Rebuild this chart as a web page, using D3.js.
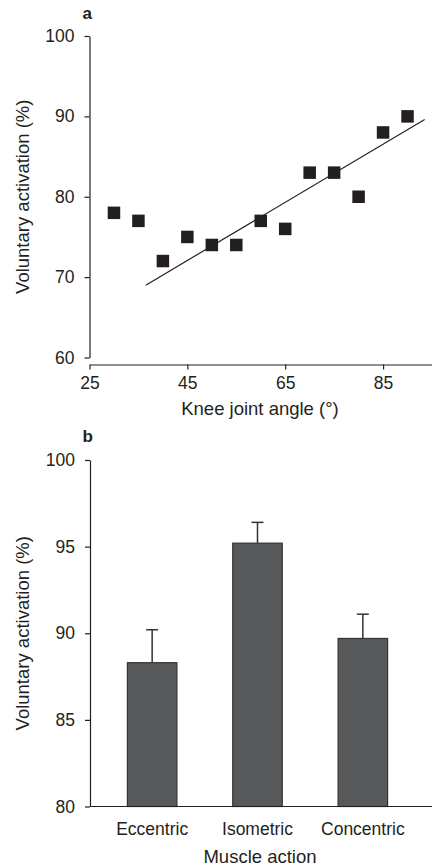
<!DOCTYPE html>
<html>
<head>
<meta charset="utf-8">
<script src="https://cdn.jsdelivr.net/npm/d3@7"></script>
<style>
    body { margin: 0; background: #ffffff; }
    svg { display: block; font-family: "Liberation Sans", Arial, sans-serif; }
    .axis text { font-size: 17.5px; fill: #231f20; }
    .axis path, .axis line { stroke: #231f20; stroke-width: 1.2px; }
</style>
</head>
<body>
<div id="chart"></div>
<script>
// Panel a: voluntary activation against knee joint angle
var angles = [30, 35, 40, 45, 50, 55, 60, 65, 70, 75, 80, 85, 90];
var angleActivation = [78, 77, 72, 75, 74, 74, 77, 76, 83, 83, 80, 88, 90];
var fitAngles = [36.5, 93.5];
var fitActivation = [69, 89.6];
var angleTicks = [25, 45, 65, 85];
var activationTicksA = [60, 70, 80, 90, 100];

// Panel b: voluntary activation by muscle action
var actions = ['Eccentric', 'Isometric', 'Concentric'];
var actionMeans = [88.3, 95.2, 89.7];
var actionErrors = [1.9, 1.2, 1.4];
var activationTicksB = [80, 85, 90, 95, 100];

var width = 432,
    height = 868,
    ink = '#231f20';

var svg = d3.select('#chart').append('svg')
    .attr('width', width)
    .attr('height', height);

// ---- Panel a ----
var xA = d3.scaleLinear().domain([25, 95]).range([89.5, 432]),
    yA = d3.scaleLinear().domain([60, 100]).range([357.5, 36]);

svg.append('g')
    .attr('class', 'axis')
    .attr('transform', 'translate(89.5,0)')
    .call(d3.axisLeft(yA).tickValues(activationTicksA).tickSize(5).tickPadding(10).tickSizeOuter(0));

svg.append('g')
    .attr('class', 'axis')
    .attr('transform', 'translate(0,364.5)')
    .call(d3.axisBottom(xA).tickValues(angleTicks).tickSize(5).tickPadding(7).tickSizeOuter(0));

svg.append('line')
    .attr('x1', xA(fitAngles[0]))
    .attr('y1', yA(fitActivation[0]))
    .attr('x2', xA(fitAngles[1]))
    .attr('y2', yA(fitActivation[1]))
    .attr('stroke', ink)
    .attr('stroke-width', 1.2);

var sq = 12.5;
svg.append('g').selectAll('rect')
    .data(angles)
    .enter().append('rect')
    .attr('x', function (d) { return xA(d) - sq / 2; })
    .attr('y', function (d, i) { return yA(angleActivation[i]) - sq / 2; })
    .attr('width', sq)
    .attr('height', sq)
    .attr('fill', ink);

svg.append('text')
    .attr('x', 82.5).attr('y', 19)
    .attr('font-size', '17px').attr('font-weight', 'bold').attr('fill', ink)
    .text('a');

svg.append('text')
    .attr('transform', 'translate(29,' + yA(80) + ') rotate(-90)')
    .attr('text-anchor', 'middle')
    .attr('font-size', '18.5px').attr('fill', ink)
    .text('Voluntary activation (%)');

svg.append('text')
    .attr('x', 260).attr('y', 415)
    .attr('text-anchor', 'middle')
    .attr('font-size', '18.5px').attr('fill', ink)
    .text('Knee joint angle (°)');

// ---- Panel b ----
var xB = d3.scaleBand().domain(actions).range([90, 425]).paddingInner(0.53).paddingOuter(0.355),
    yB = d3.scaleLinear().domain([80, 100]).range([806.5, 460]);

svg.append('g')
    .attr('class', 'axis')
    .attr('transform', 'translate(90,0)')
    .call(d3.axisLeft(yB).tickValues(activationTicksB).tickSize(5).tickPadding(10).tickSizeOuter(0));

var bars = svg.append('g');

// Error bars drawn under the bars so only the upper part shows.
bars.selectAll('line.err')
    .data(actions)
    .enter().append('line')
    .attr('class', 'err')
    .attr('x1', function (d) { return xB(d) + xB.bandwidth() / 2; })
    .attr('x2', function (d) { return xB(d) + xB.bandwidth() / 2; })
    .attr('y1', function (d, i) { return yB(actionMeans[i]); })
    .attr('y2', function (d, i) { return yB(actionMeans[i] + actionErrors[i]); })
    .attr('stroke', '#333333').attr('stroke-width', 1.5);

bars.selectAll('line.cap')
    .data(actions)
    .enter().append('line')
    .attr('class', 'cap')
    .attr('x1', function (d) { return xB(d) + xB.bandwidth() / 2 - 6; })
    .attr('x2', function (d) { return xB(d) + xB.bandwidth() / 2 + 6; })
    .attr('y1', function (d, i) { return yB(actionMeans[i] + actionErrors[i]); })
    .attr('y2', function (d, i) { return yB(actionMeans[i] + actionErrors[i]); })
    .attr('stroke', '#333333').attr('stroke-width', 1.5);

bars.selectAll('rect')
    .data(actions)
    .enter().append('rect')
    .attr('x', function (d) { return xB(d); })
    .attr('y', function (d, i) { return yB(actionMeans[i]); })
    .attr('width', xB.bandwidth())
    .attr('height', function (d, i) { return yB(80) - yB(actionMeans[i]); })
    .attr('fill', '#58595b')
    .attr('stroke', '#333333')
    .attr('stroke-width', 1.2);

var xAxisB = svg.append('g')
    .attr('class', 'axis')
    .attr('transform', 'translate(0,806.5)')
    .call(d3.axisBottom(xB).tickSize(0).tickPadding(16));
xAxisB.select('.domain').attr('d', 'M90,0H432');

svg.append('text')
    .attr('x', 82.5).attr('y', 441.5)
    .attr('font-size', '17px').attr('font-weight', 'bold').attr('fill', ink)
    .text('b');

svg.append('text')
    .attr('transform', 'translate(29,' + yB(90) + ') rotate(-90)')
    .attr('text-anchor', 'middle')
    .attr('font-size', '18.5px').attr('fill', ink)
    .text('Voluntary activation (%)');

svg.append('text')
    .attr('x', 260).attr('y', 863)
    .attr('text-anchor', 'middle')
    .attr('font-size', '18.5px').attr('fill', ink)
    .text('Muscle action');
</script>
</body>
</html>
